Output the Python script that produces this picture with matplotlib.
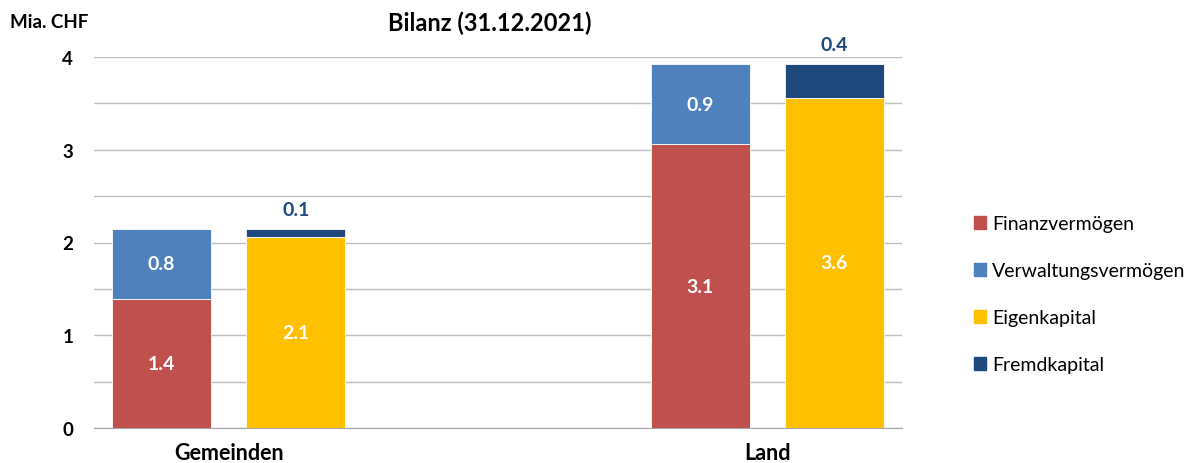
import numpy as np
import matplotlib.pyplot as plt
from matplotlib.patches import Patch

plt.rcParams['font.family'] = ['Lato', 'DejaVu Sans']

categories = ['Gemeinden', 'Land']
finanzvermoegen = [1.39, 3.06]
verwaltungsvermoegen = [0.76, 0.86]
eigenkapital = [2.06, 3.56]
fremdkapital = [0.09, 0.36]

c_fin = '#C0504D'
c_ver = '#4F81BD'
c_eig = '#FFC000'
c_fre = '#1F497D'

fig = plt.figure(figsize=(11.92, 4.64), dpi=100)
ax = fig.add_axes([94 / 1192, 35 / 464, 808 / 1192, 371 / 464])

x = np.arange(len(categories))
w = 0.184
off = 0.1245

fin = np.array(finanzvermoegen)
ver = np.array(verwaltungsvermoegen)
eig = np.array(eigenkapital)
fre = np.array(fremdkapital)

kw = dict(width=w, edgecolor='white', linewidth=0.6, zorder=3)
ax.bar(x - off, fin, color=c_fin, **kw)
ax.bar(x - off, ver, bottom=fin, color=c_ver, **kw)
ax.bar(x + off, eig, color=c_eig, **kw)
ax.bar(x + off, fre, bottom=eig, color=c_fre, **kw)

lab = dict(ha='center', va='center', color='white', fontsize=14,
           fontweight='bold', zorder=4)
for i in range(len(categories)):
    ax.text(x[i] - off, fin[i] / 2, f'{fin[i]:.1f}', **lab)
    ax.text(x[i] - off, fin[i] + ver[i] / 2, f'{ver[i]:.1f}', **lab)
    ax.text(x[i] + off, eig[i] / 2, f'{eig[i]:.1f}', **lab)
    ax.annotate(f'{fre[i]:.1f}', (x[i] + off, eig[i] + fre[i]),
                xytext=(0, 14), textcoords='offset points', ha='center',
                va='center', color=c_fre, fontsize=14, fontweight='bold')

ax.set_xlim(-0.25, 1.25)
ax.set_ylim(0, 4)
ax.set_yticks(np.arange(0, 4.01, 0.5), minor=True)
ax.set_yticks([0, 1, 2, 3, 4])
ax.set_yticklabels(['0', '1', '2', '3', '4'], fontsize=13.5, fontweight='bold')
ax.grid(axis='y', which='both', color='#BFBFBF', linewidth=1, zorder=0)
ax.tick_params(axis='y', which='both', length=0, pad=15)
ax.tick_params(axis='x', length=0, pad=10)
ax.set_xticks(x)
ax.set_xticklabels(categories, fontsize=15.5, fontweight='bold')
for s in ['top', 'right', 'left']:
    ax.spines[s].set_visible(False)
ax.spines['bottom'].set_color('#A6A6A6')

fig.text(490 / 1192, 1 - 23 / 464, 'Bilanz (31.12.2021)', ha='center',
         va='center', fontsize=17, fontweight='bold')
fig.text(10 / 1192, 1 - 22 / 464, 'Mia. CHF', ha='left', va='center',
         fontsize=13.5, fontweight='bold')

handles = [Patch(color=c_fin), Patch(color=c_ver), Patch(color=c_eig),
           Patch(color=c_fre)]
names = ['Finanzvermögen', 'Verwaltungsvermögen', 'Eigenkapital', 'Fremdkapital']
fig.legend(handles, names, loc='center left', bbox_to_anchor=(956 / 1192, 0.364),
           frameon=False, fontsize=14, handlelength=0.65, handleheight=0.65,
           handletextpad=0.3, labelspacing=1.55)

fig.savefig('out.png', dpi=100)
